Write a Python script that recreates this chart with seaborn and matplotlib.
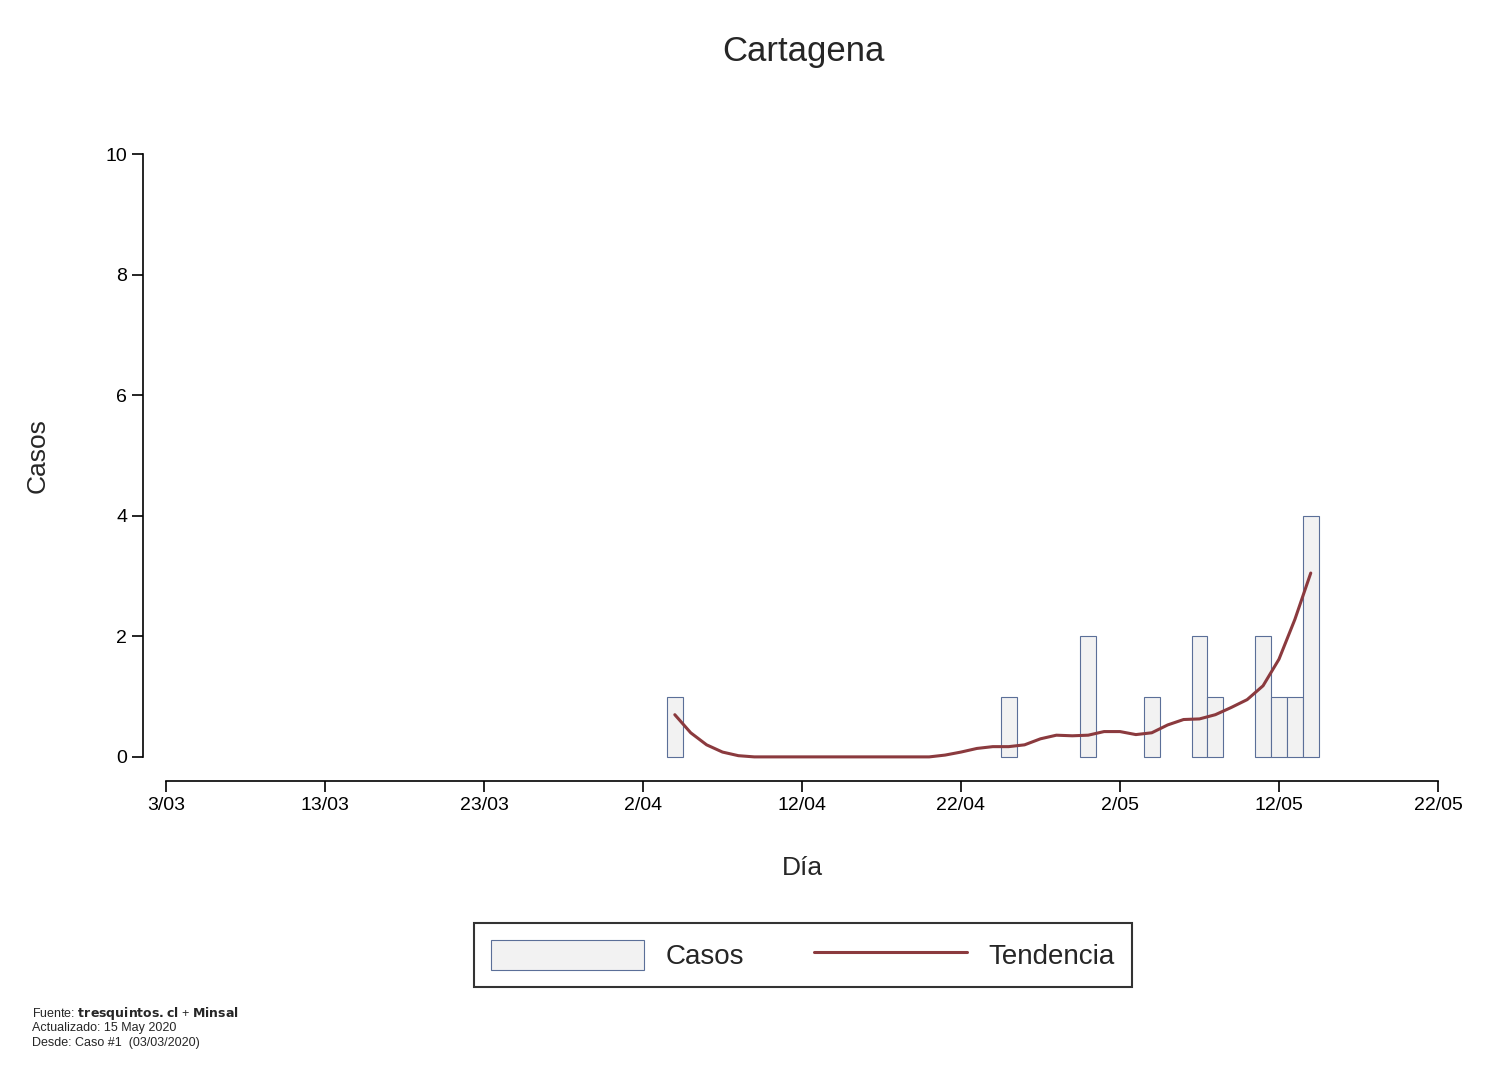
import matplotlib
matplotlib.use("Agg")
import matplotlib.pyplot as plt
import seaborn as sns
import pandas as pd
from matplotlib.patches import Patch
from matplotlib.lines import Line2D

sns.set_style("white")
plt.rcParams['font.family'] = ['Liberation Sans', 'DejaVu Sans']

# days counted from 3/03/2020
bar_days = [32, 53, 58, 62, 65, 66, 69, 70, 71, 72]
bar_cases = [1, 1, 2, 1, 2, 1, 2, 1, 1, 4]

trend_days = list(range(32, 73))
trend_vals = [0.7, 0.4, 0.2, 0.08, 0.02, 0.0, 0.0, 0.0, 0.0, 0.0,
              0.0, 0.0, 0.0, 0.0, 0.0, 0.0, 0.0, 0.03, 0.08, 0.14,
              0.17, 0.17, 0.2, 0.3, 0.36, 0.35, 0.36, 0.42, 0.42, 0.37,
              0.4, 0.53, 0.62, 0.63, 0.7, 0.82, 0.95, 1.18, 1.62, 2.28,
              3.05]

tick_days = [0, 10, 20, 30, 40, 50, 60, 70, 80]
tick_labels = ['3/03', '13/03', '23/03', '2/04', '12/04', '22/04', '2/05', '12/05', '22/05']

bars = pd.DataFrame({'dia': bar_days, 'casos': bar_cases})
trend = pd.DataFrame({'dia': trend_days, 'tendencia': trend_vals})

W, H = 1488, 1082
fig = plt.figure(figsize=(W / 100, H / 100), dpi=100)
ax = fig.add_axes([143 / W, 301 / H, (1461 - 143) / W, (952 - 301) / H])

sns.barplot(data=bars, x='dia', y='casos', native_scale=True, width=1.0,
            color='#f2f2f2', edgecolor='#5b6f98', linewidth=0.8, ax=ax)
sns.lineplot(data=trend, x='dia', y='tendencia', color='#8b3a3e', linewidth=2.2, ax=ax)

ax.set_xlim(-1.45, 81.45)
ax.set_ylim(-0.4, 10.4)
ax.set_xticks(tick_days)
ax.set_xticklabels(tick_labels)
ax.set_yticks([0, 2, 4, 6, 8, 10])
for s in ['top', 'right']:
    ax.spines[s].set_visible(False)
ax.spines['left'].set_bounds(0, 10)
ax.spines['bottom'].set_bounds(0, 80)
for s in ['left', 'bottom']:
    ax.spines[s].set_color('black')
    ax.spines[s].set_linewidth(1.2)
ax.tick_params(axis='both', direction='out', length=8, width=1.2, labelsize=14,
               bottom=True, left=True, colors='black')
ax.set_xlabel('Día', fontsize=19, labelpad=30)
ax.set_ylabel('Casos', fontsize=19, labelpad=40)
ax.grid(False)

fig.text(803 / W, 1 - 52 / H, 'Cartagena', fontsize=25, ha='center', va='center')

handles = [Patch(facecolor='#f2f2f2', edgecolor='#5b6f98', linewidth=0.8),
           Line2D([0], [0], color='#8b3a3e', linewidth=2.2)]
leg = fig.legend(handles, ['Casos', 'Tendencia'], loc='center', ncol=2,
                 bbox_to_anchor=(803 / W, 1 - 955 / H), fontsize=20,
                 frameon=True, fancybox=False, edgecolor='black',
                 handlelength=5.5, handleheight=1.3, columnspacing=2.5, borderpad=0.6)
leg.get_frame().set_linewidth(1.5)

fig.text(32 / W, 1 - 1013 / H, 'Fuente: $\\bf{tresquintos.cl}$ + $\\bf{Minsal}$', fontsize=9, va='center')
fig.text(32 / W, 1 - 1028 / H, 'Actualizado: 15 May 2020', fontsize=9, va='center')
fig.text(32 / W, 1 - 1043 / H, 'Desde: Caso #1  (03/03/2020)', fontsize=9, va='center')

fig.savefig('out.png', dpi=100)
